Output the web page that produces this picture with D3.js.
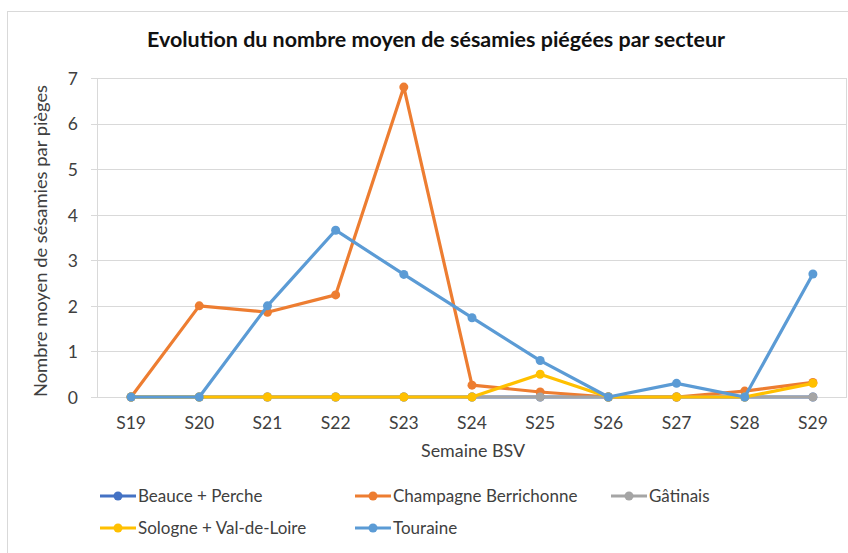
<!DOCTYPE html>
<html><head><meta charset="utf-8">
<script src="https://cdn.jsdelivr.net/npm/d3@7"></script>
<style>body{margin:0;background:#fff;} svg{display:block;font-family:Lato,"Open Sans",sans-serif;}</style>
</head><body><svg id="c" width="848" height="553"></svg>
<script>
const title = "Evolution du nombre moyen de sésamies piégées par secteur";
const yTitle = "Nombre moyen de sésamies par pièges";
const xTitle = "Semaine BSV";
const weeks = ["S19","S20","S21","S22","S23","S24","S25","S26","S27","S28","S29"];
const yTicks = [0,1,2,3,4,5,6,7];
const seriesNames = ["Beauce + Perche","Champagne Berrichonne","Gâtinais","Sologne + Val-de-Loire","Touraine"];
const seriesColors = ["#4472C4","#ED7D31","#A5A5A5","#FFC000","#5B9BD5"];
const beauce     = [0,0,0,0,0,0,0,0,0,0,0];
const champagne  = [0,2.0,1.86,2.24,6.8,0.26,0.11,0,0,0.13,0.32];
const gatinais   = [0,0,0,0,0,0,0,0,0,0,0];
const sologne    = [0,0,0,0,0,0,0.5,0,0,0,0.3];
const touraine   = [0,0,2.0,3.66,2.69,1.74,0.8,0,0.3,0,2.7];
const seriesValues = [beauce,champagne,gatinais,sologne,touraine];

const svg = d3.select("#c");
// outer chart border
svg.append("rect").attr("x",7.5).attr("y",11.5).attr("width",900).attr("height",600)
  .attr("fill","none").attr("stroke","#d9d9d9").attr("stroke-width",1);

const L=97, R=847, T=78, B=397;
const x = d3.scaleBand().domain(weeks).range([L,R]);
const y = d3.scaleLinear().domain([0,7]).range([B,T]);

// gridlines
svg.append("g").selectAll("line").data(yTicks).join("line")
  .attr("x1",91).attr("x2",R).attr("y1",d=>Math.round(y(d))+0.5).attr("y2",d=>Math.round(y(d))+0.5)
  .attr("stroke","#d9d9d9").attr("stroke-width",1);
// plot side borders
svg.append("line").attr("x1",L+0.5).attr("x2",L+0.5).attr("y1",T).attr("y2",B+1).attr("stroke","#d9d9d9");
svg.append("line").attr("x1",R-0.5).attr("x2",R-0.5).attr("y1",T).attr("y2",B+1).attr("stroke","#d9d9d9");

// y axis labels
const yAxis = d3.axisLeft(y).tickValues(yTicks).tickSize(0).tickPadding(0).tickFormat(d3.format("d"));
const gy = svg.append("g").attr("transform",`translate(78,0)`).call(yAxis);
gy.select(".domain").remove();
gy.selectAll("text").attr("font-family","Lato").attr("font-size","17.5px").attr("fill","#404040").attr("dy","0.36em");

// x axis labels
const xAxis = d3.axisBottom(x).tickSize(0).tickPadding(0);
const gx = svg.append("g").attr("transform",`translate(0,${B})`).call(xAxis);
gx.select(".domain").remove();
gx.selectAll("text").attr("font-family","Lato").attr("font-size","17.5px").attr("fill","#404040").attr("dy",null).attr("y",32);

// titles
svg.append("text").attr("x",436).attr("y",47).attr("text-anchor","middle")
  .attr("font-family","Lato").attr("font-weight","bold").attr("font-size","20px").attr("fill","#111")
  .attr("textLength",578).attr("lengthAdjust","spacingAndGlyphs").text(title);
svg.append("text").attr("x",473).attr("y",457).attr("text-anchor","middle")
  .attr("font-family","Lato").attr("font-size","17.5px").attr("fill","#404040")
  .attr("textLength",104).attr("lengthAdjust","spacingAndGlyphs").text(xTitle);
svg.append("text").attr("transform","translate(47,241) rotate(-90)").attr("text-anchor","middle")
  .attr("font-family","Lato").attr("font-size","18px").attr("fill","#404040")
  .attr("textLength",312).attr("lengthAdjust","spacingAndGlyphs").text(yTitle);

// series
const line = d3.line().x((d,i)=>x(weeks[i])+x.bandwidth()/2).y(d=>y(d));
seriesValues.forEach((vals,k)=>{
  const g = svg.append("g");
  g.append("path").attr("d",line(vals)).attr("fill","none").attr("stroke",seriesColors[k])
    .attr("stroke-width",3.2).attr("stroke-linejoin","round").attr("stroke-linecap","round");
  g.selectAll("circle").data(vals).join("circle")
    .attr("cx",(d,i)=>x(weeks[i])+x.bandwidth()/2).attr("cy",d=>y(d)).attr("r",4.5)
    .attr("fill",seriesColors[k]);
});

// legend
const legPos = [[100,496],[355,496],[611,496],[100,528],[355,528]];
seriesNames.forEach((n,k)=>{
  const [lx,ly]=legPos[k];
  const g = svg.append("g");
  g.append("line").attr("x1",lx).attr("x2",lx+36).attr("y1",ly).attr("y2",ly)
    .attr("stroke",seriesColors[k]).attr("stroke-width",3.2);
  g.append("circle").attr("cx",lx+18).attr("cy",ly).attr("r",4.5).attr("fill",seriesColors[k]);
  g.append("text").attr("x",lx+38).attr("y",ly).attr("dy","0.36em")
    .attr("font-family","Lato").attr("font-size","17px").attr("fill","#404040").text(n);
});
</script></body></html>
